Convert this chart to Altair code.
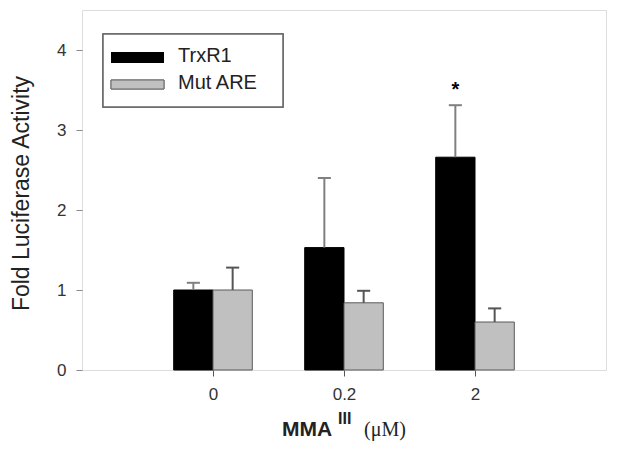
import altair as alt
import pandas as pd

categories = ["0", "0.2", "2"]
series_names = ["TrxR1", "Mut ARE"]
trxr1_mean = [1.00, 1.53, 2.66]
trxr1_err = [0.09, 0.87, 0.65]
mut_mean = [1.00, 0.84, 0.60]
mut_err = [0.28, 0.15, 0.17]
star_category = "2"
star_value = 3.55

rows = []
for i, c in enumerate(categories):
    rows.append({"cat": c, "idx": i + 1, "series": "TrxR1", "mean": trxr1_mean[i], "err": trxr1_err[i], "side": -1})
    rows.append({"cat": c, "idx": i + 1, "series": "Mut ARE", "mean": mut_mean[i], "err": mut_err[i], "side": 1})
df = pd.DataFrame(rows)

FONT = "Liberation Sans"
W, H = 524, 360

xscale = alt.Scale(domain=[0, 4], nice=False, zero=False)
yscale = alt.Scale(domain=[0, 4.5], nice=False)
label_expr = "[" + ",".join("'" + c + "'" for c in categories) + "][datum.value - 1]"

base = alt.Chart(df).transform_calculate(
    x1="datum.side < 0 ? datum.idx - 0.3 : datum.idx",
    x2="datum.side < 0 ? datum.idx : datum.idx + 0.3",
    xc="datum.idx + datum.side * 0.15",
    cl="datum.idx + datum.side * 0.15 - 0.05",
    cr="datum.idx + datum.side * 0.15 + 0.05",
    top="datum.mean + datum.err",
)

color_scale = alt.Scale(domain=series_names, range=["#000000", "#c0c0c0"])
stroke_scale = alt.Scale(domain=series_names, range=["#000000", "#5a5a5a"])
err_scale = alt.Scale(domain=series_names, range=["#808080", "#555555"])

bars = base.mark_rect(strokeWidth=1).encode(
    x=alt.X("x1:Q", scale=xscale,
            axis=alt.Axis(values=[1, 2, 3], labelExpr=label_expr, domain=False,
                          ticks=True, tickSize=6, tickColor="#555555", tickWidth=1,
                          labelFontSize=17, labelFont=FONT, labelColor="#333333",
                          labelPadding=10, grid=False, title=None)),
    x2="x2:Q",
    y=alt.Y("mean:Q", scale=yscale,
            axis=alt.Axis(values=[0, 1, 2, 3, 4], format="d", domain=False, ticks=True,
                          tickSize=6, tickColor="#888888", tickWidth=1,
                          labelFontSize=17, labelFont=FONT, labelColor="#333333",
                          labelPadding=10, grid=False,
                          title="Fold Luciferase Activity", titleFont=FONT,
                          titleFontSize=23, titleFontWeight="normal", titleColor="#222222",
                          titleAngle=-90, titleX=-61, titleY=183,
                          titleAlign="center", titleBaseline="middle")),
    y2=alt.datum(0),
    fill=alt.Fill("series:N", scale=color_scale, legend=None),
    stroke=alt.Stroke("series:N", scale=stroke_scale, legend=None),
)

whisk = base.mark_rule(strokeWidth=2).encode(
    x="xc:Q", y="mean:Q", y2="top:Q",
    color=alt.Color("series:N", scale=err_scale, legend=None),
)
caps = base.mark_rule(strokeWidth=2).encode(
    x="cl:Q", x2="cr:Q", y="top:Q",
    color=alt.Color("series:N", scale=err_scale, legend=None),
)

star_df = pd.DataFrame({"cat": [star_category], "value": [star_value]})
star_df["idx"] = star_df["cat"].map({c: i + 1 for i, c in enumerate(categories)})
star = alt.Chart(star_df).transform_calculate(xs="datum.idx - 0.15").mark_text(
    text="*", fontSize=20, font=FONT, fontWeight="bold", baseline="middle", dy=4, color="#000000"
).encode(x="xs:Q", y="value:Q")

# legend
leg = alt.Chart(pd.DataFrame({"s": series_names}))
leg_box = leg.mark_rect(fill="white", stroke="#666666", strokeWidth=1.5).encode(
    x=alt.value(21), x2=alt.value(201), y=alt.value(24), y2=alt.value(97))
sw1 = leg.mark_rect(fill="#000000").encode(
    x=alt.value(29), x2=alt.value(82), y=alt.value(42), y2=alt.value(53))
sw2 = leg.mark_rect(fill="#c0c0c0", stroke="#666666", strokeWidth=1).encode(
    x=alt.value(29), x2=alt.value(82), y=alt.value(70), y2=alt.value(79))
t1 = alt.Chart(pd.DataFrame({"s": [series_names[0]]})).mark_text(
    align="left", baseline="middle", fontSize=20, font=FONT, color="#222222").encode(
    x=alt.value(96), y=alt.value(46), text="s:N")
t2 = alt.Chart(pd.DataFrame({"s": [series_names[1]]})).mark_text(
    align="left", baseline="middle", fontSize=20, font=FONT, color="#222222").encode(
    x=alt.value(96), y=alt.value(73), text="s:N")

# x title pieces
xt = alt.Chart(pd.DataFrame({"a": ["MMA"], "b": ["III"], "c": ["(μM)"]}))
xt1 = xt.mark_text(align="left", baseline="alphabetic", fontSize=21, font=FONT,
                   fontWeight="bold", color="#222222").encode(
    x=alt.value(200), y=alt.value(426), text="a:N")
xt2 = xt.mark_text(align="left", baseline="alphabetic", fontSize=16, font=FONT,
                   fontWeight="bold", color="#222222").encode(
    x=alt.value(256), y=alt.value(414), text="b:N")
xt3 = xt.mark_text(align="left", baseline="alphabetic", fontSize=20, font="Liberation Serif",
                   color="#222222").encode(
    x=alt.value(282), y=alt.value(426), text="c:N")

chart = alt.layer(bars, whisk, caps, star, leg_box, sw1, sw2, t1, t2, xt1, xt2, xt3).properties(
    width=W, height=H,
    autosize=alt.AutoSizeParams(type="none"),
    padding={"left": 74, "top": 2, "right": 12, "bottom": 71},
).configure_view(stroke="#a0a0a0", strokeWidth=2.5).configure(background="white")

chart.save("out.html", embed_options={"renderer": "svg", "actions": False})
